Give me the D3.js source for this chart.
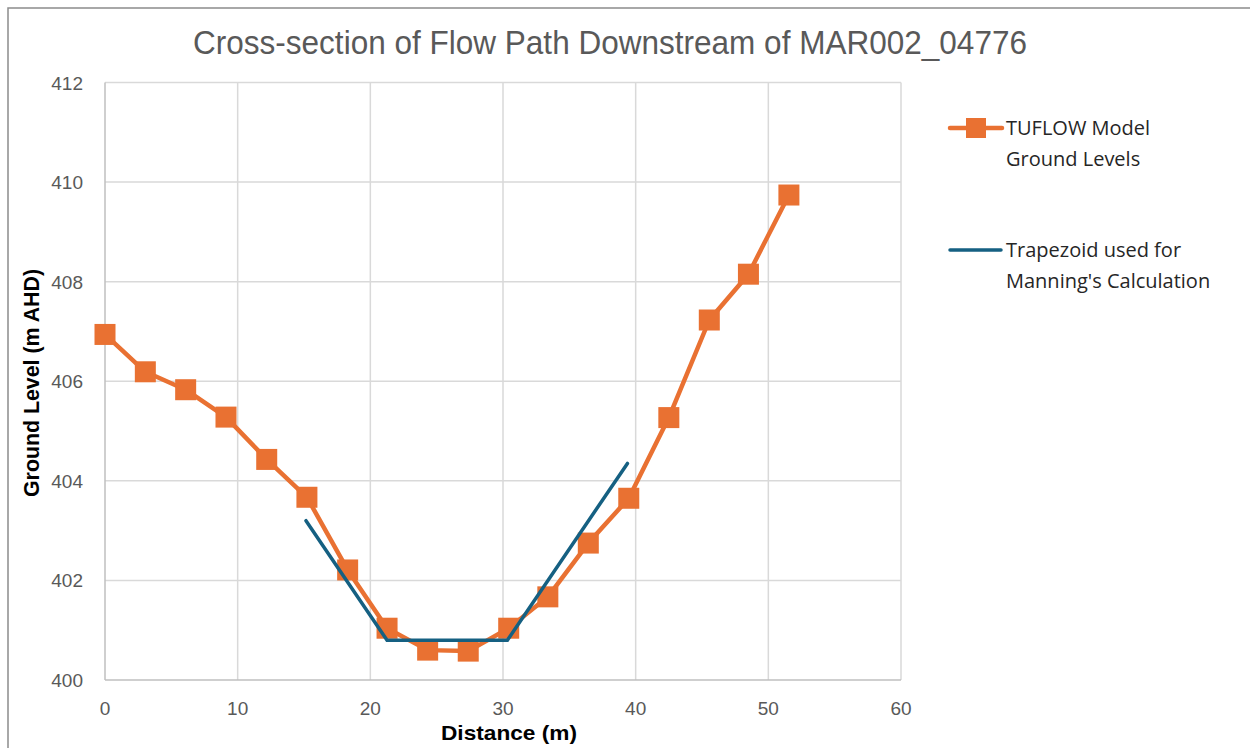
<!DOCTYPE html>
<html><head><meta charset="utf-8">
<script src="https://cdn.jsdelivr.net/npm/d3@7"></script>
<style>body{margin:0;background:#fff;}svg{display:block;}</style>
</head><body><svg id="c" width="1250" height="748"></svg>
<script>
const title = "Cross-section of Flow Path Downstream of MAR002_04776";
const tuflowX = [0, 3.04, 6.08, 9.12, 12.19, 15.22, 18.29, 21.26, 24.32, 27.38, 30.43, 33.38, 36.43, 39.48, 42.5, 45.55, 48.5, 51.55];
const tuflowY = [406.94, 406.19, 405.83, 405.28, 404.43, 403.67, 402.21, 401.04, 400.6, 400.58, 401.04, 401.67, 402.75, 403.65, 405.27, 407.23, 408.15, 409.74];
const trapX = [15.15, 21.26, 30.33, 39.38];
const trapY = [403.2, 400.8, 400.8, 404.35];
const xTicks = [0, 10, 20, 30, 40, 50, 60];
const yTicks = [400, 402, 404, 406, 408, 410, 412];
const seriesNames = ["TUFLOW Model|Ground Levels", "Trapezoid used for|Manning's Calculation"];

const svg = d3.select("#c");
const orange = "#E97132", blue = "#156082";
const x = d3.scaleLinear().domain([0, 60]).range([105, 901]);
const y = d3.scaleLinear().domain([400, 412]).range([680, 82.5]);

// chart border
svg.append("rect").attr("x", 8).attr("y", 8).attr("width", 1260).attr("height", 760)
  .attr("fill", "#fff").attr("stroke", "#8c8c8c").attr("stroke-width", 1.5);

// gridlines
svg.append("g").selectAll("line").data(yTicks.slice(1)).join("line")
  .attr("x1", x(0)).attr("x2", x(60)).attr("y1", d => y(d)).attr("y2", d => y(d))
  .attr("stroke", "#d9d9d9").attr("stroke-width", 1.5);
svg.append("g").selectAll("line").data(xTicks.slice(1)).join("line")
  .attr("y1", y(400)).attr("y2", y(412)).attr("x1", d => x(d)).attr("x2", d => x(d))
  .attr("stroke", "#d9d9d9").attr("stroke-width", 1.5);
// axes lines
svg.append("line").attr("x1", x(0)).attr("x2", x(0)).attr("y1", y(400)).attr("y2", y(412))
  .attr("stroke", "#bfbfbf").attr("stroke-width", 1.5);
svg.append("line").attr("x1", x(0)).attr("x2", x(60)).attr("y1", y(400)).attr("y2", y(400))
  .attr("stroke", "#bfbfbf").attr("stroke-width", 1.5);

const tickFont = "'Liberation Sans', Arial, sans-serif";
svg.append("g").selectAll("text").data(xTicks).join("text")
  .attr("x", d => x(d)).attr("y", 715).attr("text-anchor", "middle")
  .attr("font-family", tickFont).attr("font-size", 19).attr("fill", "#595959").text(d => d);
svg.append("g").selectAll("text").data(yTicks).join("text")
  .attr("x", 83).attr("y", d => y(d) + 7).attr("text-anchor", "end")
  .attr("font-family", tickFont).attr("font-size", 19).attr("fill", "#595959").text(d => d);

// title
svg.append("text").attr("x", 610).attr("y", 54).attr("text-anchor", "middle")
  .attr("font-family", tickFont).attr("font-size", 34).attr("fill", "#595959")
  .attr("textLength", 834).attr("lengthAdjust", "spacingAndGlyphs").text(title);

// axis titles
svg.append("text").attr("x", 509).attr("y", 740).attr("text-anchor", "middle")
  .attr("font-family", tickFont).attr("font-weight", "bold").attr("font-size", 21).attr("fill", "#000")
  .attr("textLength", 136).attr("lengthAdjust", "spacingAndGlyphs")
  .text("Distance (m)");
svg.append("text").attr("transform", "translate(39,383) rotate(-90)").attr("text-anchor", "middle")
  .attr("font-family", tickFont).attr("font-weight", "bold").attr("font-size", 22).attr("fill", "#000")
  .attr("textLength", 228).attr("lengthAdjust", "spacingAndGlyphs")
  .text("Ground Level (m AHD)");

const tData = tuflowX.map((v, i) => [v, tuflowY[i]]);
const zData = trapX.map((v, i) => [v, trapY[i]]);
const line = d3.line().x(d => x(d[0])).y(d => y(d[1]));

svg.append("path").datum(tData).attr("d", line).attr("fill", "none")
  .attr("stroke", orange).attr("stroke-width", 4.5).attr("stroke-linejoin", "round");
svg.append("g").selectAll("rect").data(tData).join("rect")
  .attr("x", d => x(d[0]) - 10.5).attr("y", d => y(d[1]) - 10.5)
  .attr("width", 21).attr("height", 21).attr("fill", orange);
svg.append("path").datum(zData).attr("d", line).attr("fill", "none")
  .attr("stroke", blue).attr("stroke-width", 3.5).attr("stroke-linejoin", "miter").attr("stroke-linecap", "round");

// legend
const legFont = "'Open Sans', Lato, sans-serif";
const lg = svg.append("g");
lg.append("line").attr("x1", 950).attr("x2", 1002).attr("y1", 128).attr("y2", 128)
  .attr("stroke", orange).attr("stroke-width", 4.5).attr("stroke-linecap", "round");
lg.append("rect").attr("x", 966).attr("y", 118).attr("width", 20).attr("height", 20).attr("fill", orange);
lg.append("line").attr("x1", 950).attr("x2", 1001).attr("y1", 250).attr("y2", 250)
  .attr("stroke", blue).attr("stroke-width", 3.5).attr("stroke-linecap", "round");
const legY = [128, 250];
seriesNames.forEach((n, i) => {
  n.split("|").forEach((t, j) => {
    lg.append("text").attr("x", 1006).attr("y", legY[i] + 7 + j * 31)
      .attr("font-family", legFont).attr("font-size", 20).attr("fill", "#262626").text(t);
  });
});
</script></body></html>
